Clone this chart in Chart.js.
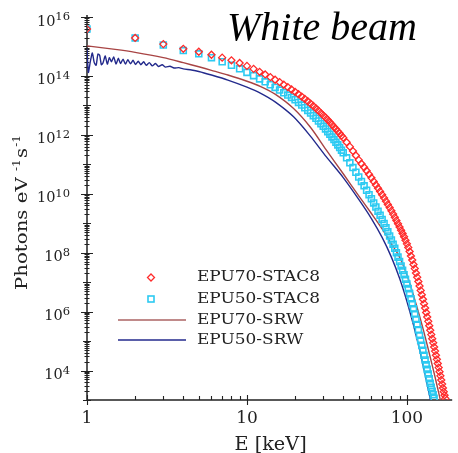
<!DOCTYPE html>
<html>
<head>
<meta charset="utf-8">
<script src="https://cdn.jsdelivr.net/npm/chart.js@4.4.1/dist/chart.umd.min.js"></script>
<style>
  body { margin: 0; background: #fff; }
  #spectrumChart { display: block; }
</style>
</head>
<body>
<canvas id="spectrumChart" width="458" height="453"></canvas>
<script>
// --- Data (energies in keV, fluxes stored as log10 of photons eV^-1 s^-1) ---
const stac70Energy = [1,2,3,4,5,6,7,8,9,10,11,12,13,14,15,16,17,18,19,20,
    21,22,23,24,25,26,27,28,29,30,31,32,33,34,35,36,37,38,39,40,
    42,44,46,48,50,52,54,56,58,60,62,64,66,68,70,72,74,76,78,80,
    82,84,86,88,90,92,94,96,98,100,102,104,106,108,110,112,114,116,118,120,
    122,124,126,128,130,132,134,136,138,140,142,144,146,148,150,152,154,156,158,160,
    162,164,166,168,170,172,174];
const stac70LogFlux = [15.59,15.29,15.08,14.92,14.82,14.72,14.62,14.53,14.44,14.34,
    14.24,14.14,14.05,13.96,13.87,13.79,13.70,13.62,13.54,13.46,
    13.38,13.30,13.22,13.14,13.06,12.98,12.90,12.82,12.74,12.66,
    12.59,12.51,12.43,12.35,12.27,12.20,12.12,12.05,11.97,11.90,
    11.75,11.60,11.45,11.30,11.15,11.02,10.90,10.78,10.66,10.54,
    10.42,10.30,10.19,10.08,9.97,9.86,9.75,9.64,9.53,9.42,
    9.31,9.20,9.09,8.98,8.87,8.76,8.65,8.54,8.42,8.30,
    8.18,8.04,7.89,7.75,7.60,7.46,7.31,7.17,7.02,6.87,
    6.72,6.57,6.42,6.27,6.12,5.97,5.82,5.67,5.52,5.37,
    5.22,5.08,4.94,4.80,4.66,4.52,4.38,4.24,4.10,3.96,
    3.82,3.68,3.54,3.41,3.28,3.16,3.05];

const stac50Energy = [1,2,3,4,5,6,7,8,9,10,11,12,13,14,15,16,17,18,19,20,
    21,22,23,24,25,26,27,28,29,30,31,32,33,34,35,36,37,38,39,40,
    42,44,46,48,50,52,54,56,58,60,62,64,66,68,70,72,74,76,78,80,
    82,84,86,88,90,92,94,96,98,100,102,104,106,108,110,112,114,116,118,120,
    122,124,126,128,130,132,134,136,138,140,142,144,146,148];
const stac50LogFlux = [15.59,15.29,15.05,14.86,14.75,14.62,14.48,14.36,14.24,14.12,
    14.01,13.90,13.80,13.70,13.61,13.52,13.43,13.35,13.27,13.19,
    13.10,13.01,12.92,12.83,12.74,12.65,12.56,12.47,12.38,12.29,
    12.20,12.11,12.02,11.93,11.84,11.75,11.66,11.57,11.48,11.39,
    11.22,11.05,10.89,10.73,10.57,10.42,10.27,10.12,9.97,9.83,
    9.69,9.55,9.41,9.27,9.13,8.99,8.85,8.71,8.57,8.43,
    8.29,8.15,8.00,7.85,7.70,7.55,7.40,7.25,7.10,6.94,
    6.78,6.61,6.44,6.27,6.10,5.92,5.74,5.56,5.38,5.20,
    5.03,4.86,4.69,4.52,4.36,4.20,4.04,3.88,3.72,3.57,
    3.43,3.30,3.18,3.06];

const srw70Energy = [1,1.5,2,3,4,5,6,7.6,10,12.2,15,19.5,25,31.3,40,50,60,70,80,90,
    100,110,120,130,140,150,160,166];
const srw70LogFlux = [15.02,14.90,14.80,14.62,14.45,14.31,14.19,14.03,13.82,13.64,
    13.38,12.90,12.25,11.49,10.68,9.93,9.33,8.81,8.30,7.85,
    7.25,6.55,5.85,5.15,4.45,3.78,3.12,2.75];

const srw50Energy = [1,1.02,1.05,1.08,1.11,1.14,1.17,1.20,1.23,1.26,
    1.30,1.34,1.38,1.42,1.47,1.52,1.57,1.62,1.68,1.74,
    1.80,1.87,1.94,2.01,2.09,2.17,2.26,2.35,2.45,2.56,
    2.68,2.80,2.95,3.10,3.30,3.50,3.75,4.0,4.5,5,
    6,7.6,10,12.2,15,19.5,25,31.3,40,50,
    60,70,80,90,100,110,120,130,140,144];
const srw50LogFlux = [14.92,14.12,14.50,14.78,14.45,14.36,14.74,14.70,14.38,14.45,
    14.68,14.40,14.62,14.48,14.64,14.40,14.60,14.42,14.57,14.40,
    14.55,14.41,14.53,14.39,14.50,14.38,14.48,14.36,14.45,14.34,
    14.42,14.32,14.38,14.30,14.33,14.27,14.28,14.24,14.20,14.15,
    14.03,13.86,13.62,13.41,13.12,12.62,11.95,11.26,10.55,9.81,
    9.16,8.52,7.85,7.13,6.35,5.54,4.71,3.87,3.03,2.70];

const seriesNames = ['EPU70-STAC8', 'EPU50-STAC8', 'EPU70-SRW', 'EPU50-SRW'];
const xTickLabels = [1, 10, 100];
const yTickExponents = [4, 6, 8, 10, 12, 14, 16];

// --- Helpers ---
function toPoints(energy, logFlux) {
    return energy.map((e, i) => ({ x: e, y: Math.pow(10, logFlux[i]) }));
}

// draws text with a horizontal stretch (source figure uses a wide serif face)
function stretchedText(ctx, str, x, y, font, align, sx) {
    ctx.save();
    ctx.font = font;
    ctx.translate(x, y);
    ctx.scale(sx, 1);
    ctx.textAlign = align;
    ctx.fillText(str, 0, 0);
    ctx.restore();
}

const RED = '#ff2b2b';
const CYAN = '#2ccaf2';
const BROWN = '#a84444';
const NAVY = '#232a8c';
const INK = '#222';

// --- Axes, ticks and labels (positions come from the chart's scales) ---
const axesDecor = {
    id: 'axesDecor',
    beforeDatasetsDraw(chart) {
        const { ctx, chartArea: a, scales: { x, y } } = chart;
        ctx.save();
        ctx.strokeStyle = INK;
        ctx.lineWidth = 1.5;
        ctx.beginPath();
        ctx.moveTo(a.left, a.top - 2);
        ctx.lineTo(a.left, a.bottom);
        ctx.lineTo(a.right, a.bottom);
        ctx.stroke();

        ctx.lineWidth = 1.1;
        ctx.beginPath();
        // y: ticks at k * 10^n
        for (let n = 3; n <= 16; n++) {
            for (let k = 1; k <= 9; k++) {
                const v = k * Math.pow(10, n);
                if (v > y.max) break;
                const py = Math.round(y.getPixelForValue(v)) + 0.5;
                let len = 2.5;
                if (k === 1) len = (n % 2 === 0) ? 6 : 4;
                ctx.moveTo(a.left - len, py);
                ctx.lineTo(a.left + len, py);
            }
        }
        // x: minor ticks point up, decades cross the axis
        for (let n = 0; n <= 2; n++) {
            for (let k = 1; k <= 9; k++) {
                const v = k * Math.pow(10, n);
                if (v > x.max) break;
                const px = Math.round(x.getPixelForValue(v)) + 0.5;
                if (k === 1) {
                    ctx.moveTo(px, a.bottom - 5);
                    ctx.lineTo(px, a.bottom + 5);
                } else {
                    ctx.moveTo(px, a.bottom - 4);
                    ctx.lineTo(px, a.bottom);
                }
            }
        }
        ctx.stroke();
        ctx.restore();
    },
    afterDraw(chart) {
        const { ctx, chartArea: a, scales: { x, y } } = chart;
        ctx.save();
        ctx.fillStyle = INK;
        ctx.textBaseline = 'alphabetic';

        // y tick labels: 10 with superscript exponent
        yTickExponents.forEach(n => {
            const py = y.getPixelForValue(Math.pow(10, n));
            ctx.font = '11.5px "DejaVu Serif"';
            ctx.textAlign = 'right';
            const exp = String(n);
            const ew = ctx.measureText(exp).width;
            ctx.fillText(exp, 70, py + 3);
            ctx.font = '14.5px "DejaVu Serif"';
            ctx.fillText('10', 70 - ew, py + 8.5);
        });

        // x tick labels
        ctx.font = '17px "DejaVu Serif"';
        ctx.textAlign = 'center';
        xTickLabels.forEach(v => {
            ctx.fillText(String(v), x.getPixelForValue(v), 423);
        });

        // axis titles
        stretchedText(ctx, 'E [keV]', (a.left + a.right) / 2 + 1, 450, '18px "DejaVu Serif"', 'center', 1.07);

        ctx.save();
        ctx.translate(27, 290);
        ctx.rotate(-Math.PI / 2);
        ctx.scale(1.16, 1);
        ctx.textAlign = 'left';
        ctx.font = '17px "DejaVu Serif"';
        let cx = 0;
        ctx.fillText('Photons eV ', cx, 0);
        cx += ctx.measureText('Photons eV ').width;
        ctx.font = '10.5px "DejaVu Serif"';
        ctx.fillText('-1', cx, -7);
        cx += ctx.measureText('-1').width + 1;
        ctx.font = '17px "DejaVu Serif"';
        ctx.fillText('s', cx, 0);
        cx += ctx.measureText('s').width + 1;
        ctx.font = '10.5px "DejaVu Serif"';
        ctx.fillText('-1', cx, -7);
        ctx.restore();

        // legend
        const rows = [277.5, 299, 320, 340];
        ctx.textBaseline = 'middle';
        seriesNames.forEach((name, i) => {
            stretchedText(ctx, name, 197, rows[i], '14px "DejaVu Serif"', 'left', 1.21);
        });
        ctx.lineWidth = 1.3;
        ctx.strokeStyle = RED;
        ctx.beginPath();
        ctx.moveTo(151, rows[0] - 3.5); ctx.lineTo(154.5, rows[0]);
        ctx.lineTo(151, rows[0] + 3.5); ctx.lineTo(147.5, rows[0]);
        ctx.closePath();
        ctx.stroke();
        ctx.lineWidth = 1.6;
        ctx.strokeStyle = CYAN;
        ctx.strokeRect(148, rows[1] - 3, 6, 6);
        ctx.lineWidth = 2;
        ctx.strokeStyle = '#c08a8a';
        ctx.beginPath(); ctx.moveTo(118, rows[2]); ctx.lineTo(186, rows[2]); ctx.stroke();
        ctx.lineWidth = 1.6;
        ctx.strokeStyle = NAVY;
        ctx.beginPath(); ctx.moveTo(118, rows[3]); ctx.lineTo(186, rows[3]); ctx.stroke();

        // title
        ctx.fillStyle = '#000';
        ctx.textAlign = 'left';
        ctx.textBaseline = 'alphabetic';
        ctx.font = 'italic 40px "Liberation Serif"';
        ctx.fillText('White beam', 227, 40);
        ctx.restore();
    }
};

// --- Chart ---
const ctx = document.getElementById('spectrumChart').getContext('2d');
const spectrumChart = new Chart(ctx, {
    type: 'scatter',
    data: {
        datasets: [
            {
                label: seriesNames[0],
                data: toPoints(stac70Energy, stac70LogFlux),
                pointStyle: 'rectRot',
                pointRadius: 3.5,
                pointBorderWidth: 1.3,
                borderColor: RED,
                backgroundColor: 'rgba(255,255,255,0)',
                order: 0
            },
            {
                label: seriesNames[1],
                data: toPoints(stac50Energy, stac50LogFlux),
                pointStyle: 'rect',
                pointRadius: 4.2,
                pointBorderWidth: 1.6,
                borderColor: CYAN,
                backgroundColor: 'rgba(255,255,255,0)',
                order: 1
            },
            {
                label: seriesNames[2],
                data: toPoints(srw70Energy, srw70LogFlux),
                showLine: true,
                tension: 0.3,
                pointRadius: 0,
                borderWidth: 1.4,
                borderColor: BROWN,
                order: 2
            },
            {
                label: seriesNames[3],
                data: toPoints(srw50Energy, srw50LogFlux),
                showLine: true,
                tension: 0.2,
                pointRadius: 0,
                borderWidth: 1.4,
                borderColor: NAVY,
                order: 3
            }
        ]
    },
    options: {
        responsive: false,
        animation: false,
        layout: { padding: { left: 87, right: 0, top: 17, bottom: 53 } },
        scales: {
            x: { type: 'logarithmic', min: 1, max: 192, display: false },
            y: { type: 'logarithmic', min: 1e3, max: 1e16, display: false }
        },
        plugins: {
            legend: { display: false },
            tooltip: { enabled: false }
        }
    },
    plugins: [axesDecor]
});
</script>
</body>
</html>
